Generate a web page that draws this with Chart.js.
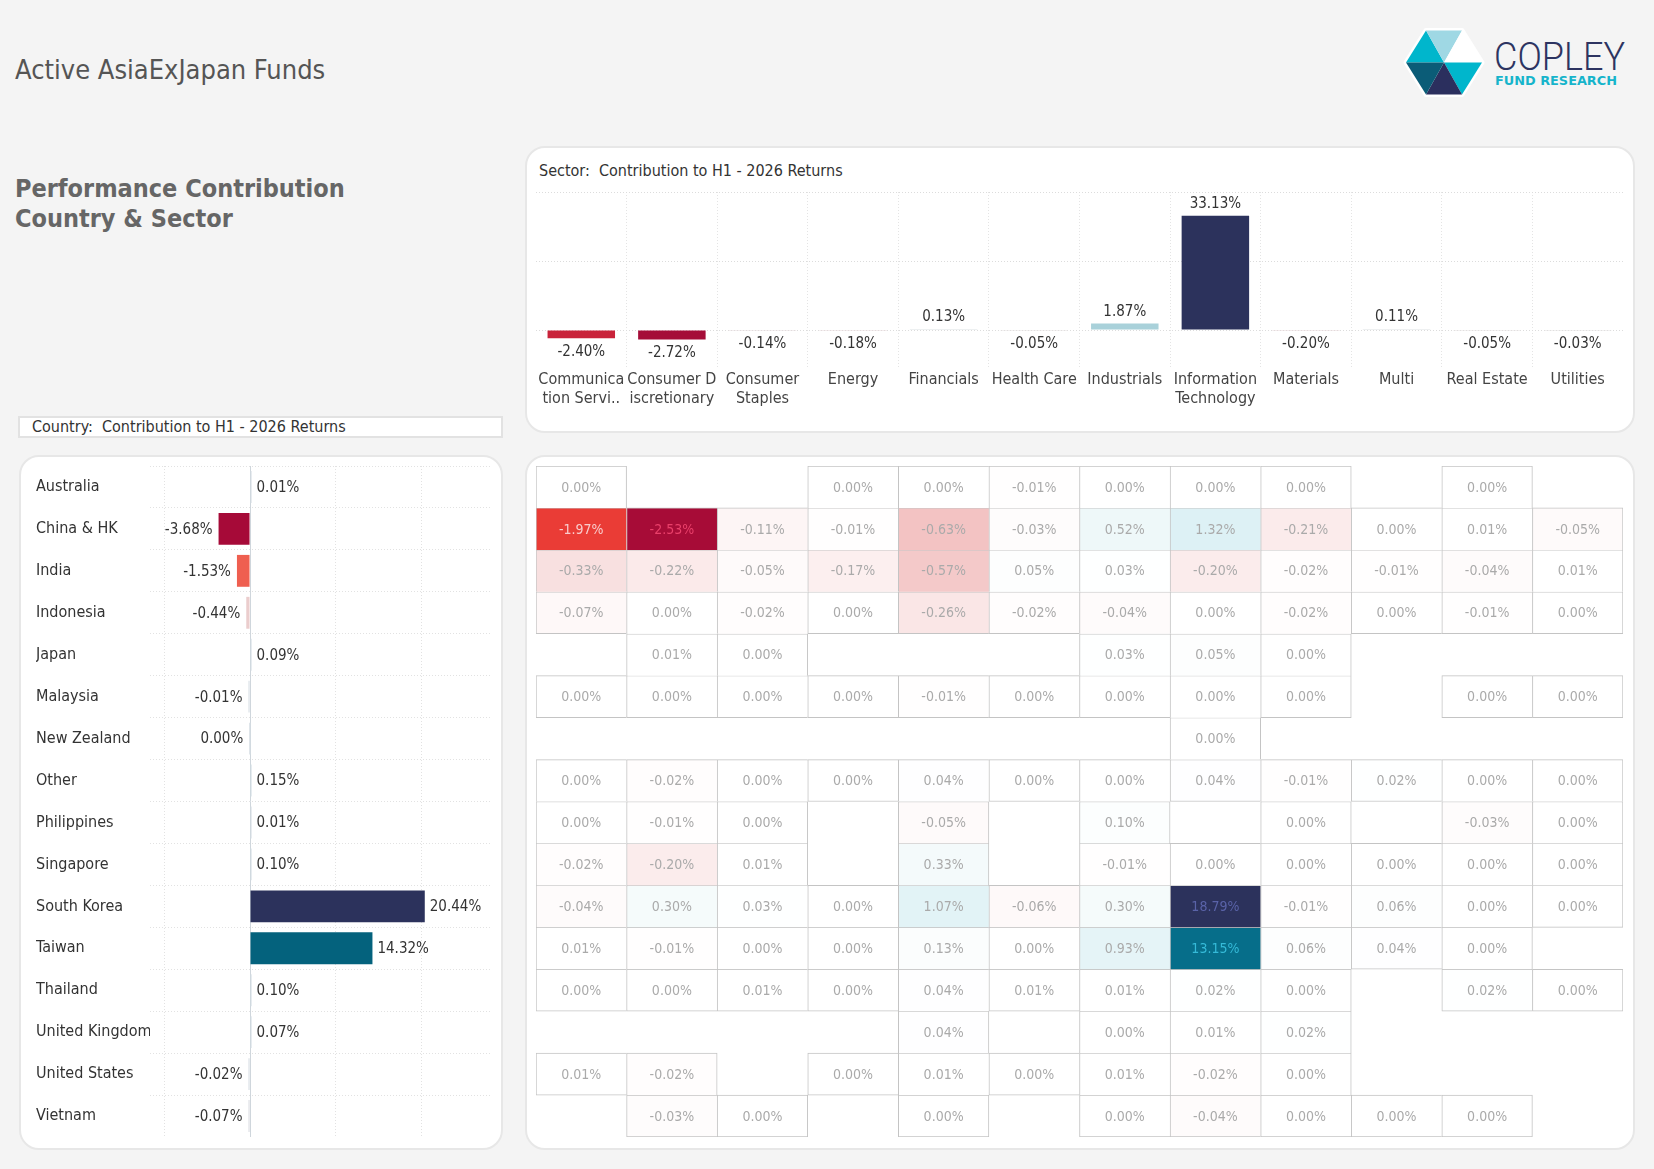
<!DOCTYPE html>
<html>
<head>
<meta charset="utf-8">
<script src="https://cdn.jsdelivr.net/npm/chart.js@4.4.1/dist/chart.umd.min.js"></script>
<style>
  body { margin:0; width:1654px; height:1169px; background:#f4f4f4; position:relative; overflow:hidden;
         font-family:'DejaVu Sans Condensed','Open Sans',sans-serif; color:#555; }
  .abs { position:absolute; white-space:pre; }
  .panel { position:absolute; background:#fff; border:2px solid #e7e7e7; border-radius:20px; box-sizing:border-box; }
  .box { position:absolute; }
</style>
</head>
<body>

<div class="abs" style="left:15px;top:52px;font-size:27px;line-height:36px;color:#555">Active AsiaExJapan Funds</div>
<div class="abs" style="left:15px;top:174px;font-size:25px;line-height:30px;font-weight:bold;color:#666">Performance Contribution
Country &amp; Sector</div>

<svg class="abs" style="left:1400px;top:25px" width="240" height="75" viewBox="1400 25 240 75">
  <polygon points="1406,62.5 1426,30.5 1462,30.5 1482,62.5 1462,94.5 1426,94.5" fill="#fff" stroke="#fff" stroke-width="5" stroke-linejoin="round"/>
  <polygon points="1406,62.5 1426,30.5 1444,62.5" fill="#00b6cc"/>
  <polygon points="1426,30.5 1462,30.5 1444,62.5" fill="#9fd8e4"/>
  <polygon points="1462,30.5 1482,62.5 1444,62.5" fill="#ffffff"/>
  <polygon points="1482,62.5 1462,94.5 1444,62.5" fill="#00b6cc"/>
  <polygon points="1462,94.5 1426,94.5 1444,62.5" fill="#2b2f5e"/>
  <polygon points="1426,94.5 1406,62.5 1444,62.5" fill="#0b5c77"/>
  <text x="1494" y="69.5" font-size="38" fill="#2d3461" font-family="Roboto" font-weight="300" textLength="131" lengthAdjust="spacingAndGlyphs">COPLEY</text>
  <text x="1495" y="84.5" font-size="11.5" fill="#16b4cb" font-family="'DejaVu Sans'" font-weight="bold" textLength="122" lengthAdjust="spacingAndGlyphs">FUND RESEARCH</text>
</svg>

<div class="panel" style="left:525px;top:146px;width:1110px;height:287px"></div>
<div class="abs" style="left:539px;top:161px;font-size:16px;line-height:20px;color:#333">Sector:  Contribution to H1 - 2026 Returns</div>
<div class="box" style="left:536px;top:192px;width:1087px;height:215px"><canvas id="sectorChart"></canvas></div>

<div class="abs" style="left:18px;top:416px;width:485px;height:22px;background:#fff;border:2px solid #e2e2e2;box-sizing:border-box"></div>
<div class="abs" style="left:32px;top:417px;font-size:16px;line-height:20px;color:#333">Country:  Contribution to H1 - 2026 Returns</div>

<div class="panel" style="left:19px;top:455px;width:484px;height:695px"></div>
<div class="box" style="left:36px;top:466px;width:454px;height:671px"><canvas id="countryChart"></canvas></div>

<div class="panel" style="left:525px;top:455px;width:1110px;height:695px"></div>
<div class="box" style="left:536px;top:466px;width:1087px;height:671px"><canvas id="heatChart"></canvas></div>

<script>
// ---- data ----
const sectorLabels = [
  ['Communica', 'tion Servi..'], ['Consumer D', 'iscretionary'], ['Consumer', 'Staples'], 'Energy',
  'Financials', 'Health Care', 'Industrials', ['Information', 'Technology'], 'Materials', 'Multi',
  'Real Estate', 'Utilities'
];
const sectorValues = [-2.40, -2.72, -0.14, -0.18, 0.13, -0.05, 1.87, 33.13, -0.20, 0.11, -0.05, -0.03];

const countries = ['Australia', 'China & HK', 'India', 'Indonesia', 'Japan', 'Malaysia', 'New Zealand', 'Other',
  'Philippines', 'Singapore', 'South Korea', 'Taiwan', 'Thailand', 'United Kingdom', 'United States', 'Vietnam'];
const countryValues = [0.01, -3.68, -1.53, -0.44, 0.09, -0.01, -0, 0.15, 0.01, 0.10, 20.44, 14.32, 0.10, 0.07, -0.02, -0.07];
const countryTicks = [-10, 0, 10, 20];
const sectorTicks = [0, 20, 40];

// country x sector contribution (null = no holding)
const N = null;
const australia   = [0.00, N, N, 0.00, 0.00, -0.01, 0.00, 0.00, 0.00, N, 0.00, N];
const chinaHK     = [-1.97, -2.53, -0.11, -0.01, -0.63, -0.03, 0.52, 1.32, -0.21, 0.00, 0.01, -0.05];
const india       = [-0.33, -0.22, -0.05, -0.17, -0.57, 0.05, 0.03, -0.20, -0.02, -0.01, -0.04, 0.01];
const indonesia   = [-0.07, 0.00, -0.02, 0.00, -0.26, -0.02, -0.04, 0.00, -0.02, 0.00, -0.01, 0.00];
const japan       = [N, 0.01, 0.00, N, N, N, 0.03, 0.05, 0.00, N, N, N];
const malaysia    = [0.00, 0.00, 0.00, 0.00, -0.01, 0.00, 0.00, 0.00, 0.00, N, 0.00, 0.00];
const newZealand  = [N, N, N, N, N, N, N, 0.00, N, N, N, N];
const other       = [0.00, -0.02, 0.00, 0.00, 0.04, 0.00, 0.00, 0.04, -0.01, 0.02, 0.00, 0.00];
const philippines = [0.00, -0.01, 0.00, N, -0.05, N, 0.10, N, 0.00, N, -0.03, 0.00];
const singapore   = [-0.02, -0.20, 0.01, N, 0.33, N, -0.01, 0.00, 0.00, 0.00, 0.00, 0.00];
const southKorea  = [-0.04, 0.30, 0.03, 0.00, 1.07, -0.06, 0.30, 18.79, -0.01, 0.06, 0.00, 0.00];
const taiwan      = [0.01, -0.01, 0.00, 0.00, 0.13, 0.00, 0.93, 13.15, 0.06, 0.04, 0.00, N];
const thailand    = [0.00, 0.00, 0.01, 0.00, 0.04, 0.01, 0.01, 0.02, 0.00, N, 0.02, 0.00];
const unitedKingdom = [N, N, N, N, 0.04, N, 0.00, 0.01, 0.02, N, N, N];
const unitedStates  = [0.01, -0.02, N, 0.00, 0.01, 0.00, 0.01, -0.02, 0.00, N, N, N];
const vietnam     = [N, -0.03, 0.00, N, 0.00, N, 0.00, -0.04, 0.00, 0.00, 0.00, N];
const heatRows = [australia, chinaHK, india, indonesia, japan, malaysia, newZealand, other,
  philippines, singapore, southKorea, taiwan, thailand, unitedKingdom, unitedStates, vietnam];

// ---- colours ----
const FONT = "'DejaVu Sans Condensed','Open Sans',sans-serif";
Chart.defaults.font.family = FONT;
Chart.defaults.animation = false;

function hex(c) { return [1, 3, 5].map(i => parseInt(c.substr(i, 2), 16)); }
function ramp(stops) {
  return v => {
    if (v <= stops[0][0]) return stops[0][1];
    for (let i = 1; i < stops.length; i++) {
      if (v <= stops[i][0]) {
        const [v0, c0] = stops[i - 1], [v1, c1] = stops[i];
        const t = (v - v0) / (v1 - v0), a = hex(c0), b = hex(c1);
        return 'rgb(' + a.map((x, k) => Math.round(x + (b[k] - x) * t)).join(',') + ')';
      }
    }
    return stops[stops.length - 1][1];
  };
}
const sectorColor = ramp([[-2.72, '#a50d38'], [-2.4, '#c9233a'], [-1.5, '#ef5f50'], [-0.5, '#ebc6ca'],
  [0, '#e4e4e4'], [0.5, '#c2dbe1'], [1.87, '#a9d1da'], [20, '#16687f'], [33.13, '#2c325c']]);
const countryColor = ramp([[-3.68, '#a60a38'], [-2.6, '#dd2f3b'], [-1.53, '#ef5f50'], [-0.44, '#ebcdcd'],
  [0, '#d3dbe2'], [1, '#c2dde4'], [14.32, '#04627d'], [20.44, '#2c325c']]);
const heatColor = ramp([[-2.53, '#a70c37'], [-1.97, '#ea3c36'], [-1.2, '#f08f86'], [-0.6, '#f3c6c6'],
  [0, '#ffffff'], [0.5, '#eef8f9'], [1.3, '#ddf1f5'], [5, '#8ccbd8'], [13.15, '#066e8a'], [18.79, '#2c325c']]);
const heatText = v => v <= -2.2 ? '#e9406a' : v <= -1.5 ? '#f9cccc' : v >= 15 ? '#5a63a8' : v >= 10 ? '#35bad8' : '#aaaaaa';

const isNeg = v => v < 0 || Object.is(v, -0);
const pct = v => v.toFixed(2) + '%';

// value labels at the end of each bar
const barLabels = {
  id: 'barLabels',
  afterDatasetsDraw(chart) {
    const { ctx } = chart;
    const data = chart.data.datasets[0].data;
    ctx.save();
    ctx.font = '15px ' + FONT;
    ctx.fillStyle = '#333';
    chart.getDatasetMeta(0).data.forEach((bar, i) => {
      const v = data[i], neg = isNeg(v);
      if (chart.options.indexAxis === 'y') {
        ctx.textBaseline = 'middle';
        ctx.textAlign = neg ? 'right' : 'left';
        const x = neg ? Math.min(bar.x, bar.base) - 6 : Math.max(bar.x, bar.base) + 5;
        ctx.fillText(pct(v), x, bar.y + 1);
      } else {
        ctx.textAlign = 'center';
        ctx.textBaseline = neg ? 'top' : 'bottom';
        const y = neg ? Math.max(bar.y, bar.base) + 6 : Math.min(bar.y, bar.base) - 4;
        ctx.fillText(pct(v), bar.x, y);
      }
    });
    ctx.restore();
  }
};

// sector bars
new Chart(document.getElementById('sectorChart'), {
  type: 'bar',
  data: {
    labels: sectorLabels,
    datasets: [{
      data: sectorValues,
      backgroundColor: sectorValues.map(sectorColor),
      barPercentage: 0.745, categoryPercentage: 1, minBarLength: 1
    }]
  },
  options: {
    responsive: true, maintainAspectRatio: false,
    layout: { padding: 0 },
    plugins: { legend: { display: false }, tooltip: { enabled: false } },
    scales: {
      x: {
        grid: { color: '#e4e4e4', drawTicks: false },
        border: { display: false, dash: [1, 2] },
        ticks: { color: '#444', font: { size: 16 }, padding: 2, maxRotation: 0, autoSkip: false },
        afterFit: s => { s.height = 39; s.paddingLeft = 0; s.paddingRight = 0; }
      },
      y: {
        min: -11, max: 40,
        afterBuildTicks: s => { s.ticks = sectorTicks.map(v => ({ value: v })); },
        grid: { color: '#dcdcdc', drawTicks: false },
        border: { display: false, dash: [1, 2] },
        ticks: { display: false },
        afterFit: s => { s.width = 0; s.paddingTop = 0; s.paddingBottom = 0; }
      }
    }
  },
  plugins: [barLabels]
});

// country bars
new Chart(document.getElementById('countryChart'), {
  type: 'bar',
  data: {
    labels: countries,
    datasets: [{
      data: countryValues,
      backgroundColor: countryValues.map(countryColor),
      barPercentage: 0.76, categoryPercentage: 1, minBarLength: 1.5
    }]
  },
  options: {
    indexAxis: 'y',
    responsive: true, maintainAspectRatio: false,
    layout: { padding: 0 },
    plugins: { legend: { display: false }, tooltip: { enabled: false } },
    scales: {
      x: {
        min: -11.7, max: 28.07,
        afterBuildTicks: s => { s.ticks = countryTicks.map(v => ({ value: v })); },
        grid: { color: c => c.tick && c.tick.value === 0 ? '#cfd6dc' : '#e2e2e2', drawTicks: false },
        border: { display: false, dash: c => c.tick && c.tick.value === 0 ? [] : [1, 2] },
        ticks: { display: false },
        afterFit: s => { s.height = 0; s.paddingLeft = 0; s.paddingRight = 0; }
      },
      y: {
        grid: { color: '#e2e2e2', drawTicks: false },
        border: { display: false, dash: [1, 2] },
        ticks: { color: '#333', font: { size: 16 }, crossAlign: 'far', padding: 0 },
        afterFit: s => { s.width = 114; s.paddingTop = 0; s.paddingBottom = 0; }
      }
    }
  },
  plugins: [barLabels]
});

// heat map cells: one floating bar per country row
const cellText = {
  id: 'cellText',
  afterDatasetsDraw(chart) {
    const { ctx } = chart;
    ctx.save();
    ctx.font = '14px ' + FONT;
    ctx.textAlign = 'center';
    ctx.textBaseline = 'middle';
    heatRows.forEach((row, r) => {
      chart.getDatasetMeta(r).data.forEach((cell, k) => {
        const v = row[k];
        if (v == null) return;
        ctx.fillStyle = heatText(v);
        ctx.fillText(pct(v), cell.x, (cell.y + cell.base) / 2 + 1);
      });
    });
    ctx.restore();
  }
};

new Chart(document.getElementById('heatChart'), {
  type: 'bar',
  data: {
    labels: sectorLabels.map(l => [].concat(l).join(' ')),
    datasets: heatRows.map((row, r) => ({
      label: countries[r],
      data: row.map(v => v == null ? null : [r, r + 1]),
      backgroundColor: row.map(v => v == null ? 'transparent' : heatColor(v)),
      borderColor: '#c4c4c4',
      borderWidth: c => ({
        top: 1, left: 1,
        right: (c.dataIndex === row.length - 1 || row[c.dataIndex + 1] == null) ? 1 : 0,
        bottom: (r === heatRows.length - 1 || heatRows[r + 1][c.dataIndex] == null) ? 1 : 0
      }),
      borderSkipped: false,
      grouped: false,
      barPercentage: 1, categoryPercentage: 1
    }))
  },
  options: {
    responsive: true, maintainAspectRatio: false,
    layout: { padding: 0 },
    plugins: { legend: { display: false }, tooltip: { enabled: false } },
    scales: {
      x: { display: false },
      y: { display: false, min: 0, max: heatRows.length, reverse: true }
    }
  },
  plugins: [cellText]
});
</script>
</body>
</html>
